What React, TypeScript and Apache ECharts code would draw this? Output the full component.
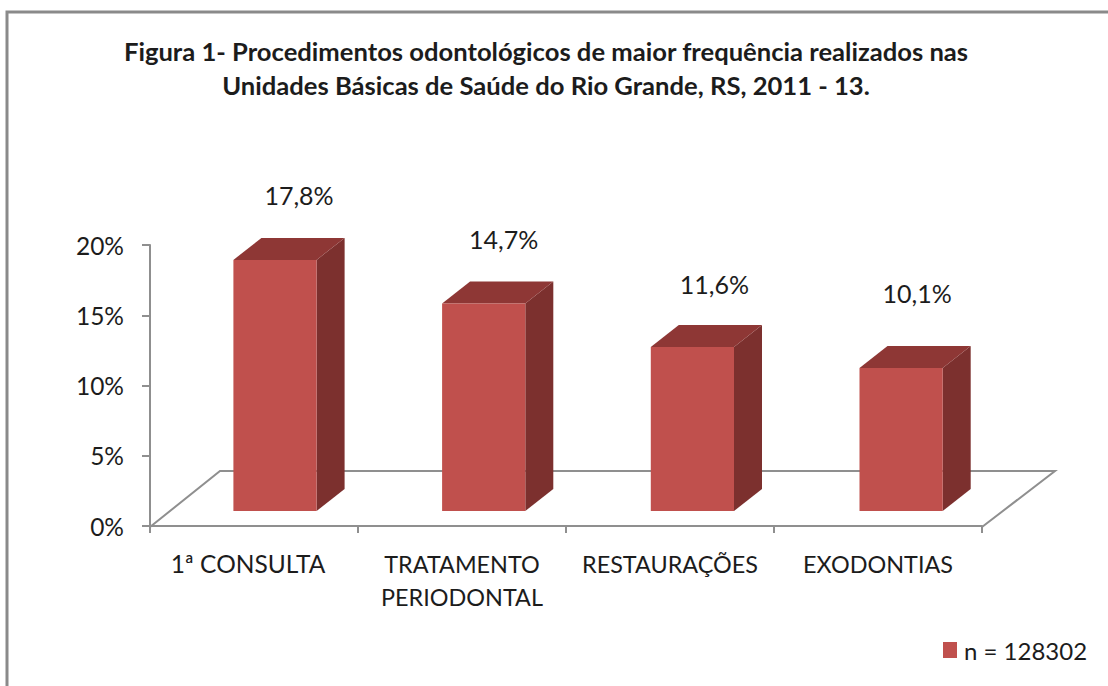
import React, { useEffect, useRef } from "react";
import * as echarts from "echarts";

const categories = ["1ª CONSULTA", "TRATAMENTO\nPERIODONTAL", "RESTAURAÇÕES", "EXODONTIAS"];
const values = [17.8, 14.7, 11.6, 10.1];
const yTicks = [0, 5, 10, 15, 20];
const titleText = "Figura 1- Procedimentos odontológicos de maior frequência realizados nas\nUnidades Básicas de Saúde do Rio Grande, RS, 2011 - 13.";
const seriesName = "n = 128302";

const FONT = "Lato, 'Open Sans', sans-serif";
const INK = "#1c1c1c";
const AXIS = "#8f8f8f";

export default function App() {
  const ref = useRef<HTMLDivElement>(null);
  useEffect(() => {
    const chart = echarts.init(ref.current!, undefined, { renderer: "svg" });
    const labelLift = [44, 43, 42, 54];
    const labelShift = [24, 20, 22, 16];
    chart.setOption({
      animation: false,
      backgroundColor: "#ffffff",
      title: {
        text: titleText,
        left: 541,
        top: 29,
        textAlign: "center",
        textStyle: { fontFamily: FONT, fontSize: 25.6, fontWeight: "bold", color: INK, lineHeight: 34 },
      },
      legend: {
        left: 938,
        top: 633,
        itemWidth: 14,
        itemHeight: 16,
        itemGap: 0,
        data: [{ name: seriesName, icon: "rect" }],
        textStyle: { fontFamily: FONT, fontSize: 24, color: INK, padding: [0, 0, 0, 2] },
      },
      grid: { left: 150, right: 126, top: 245, bottom: 160 },
      xAxis: {
        type: "category",
        data: categories.map((c, i) =>
          i === 0 ? { value: c, textStyle: { fontSize: 24.5, padding: [0, 12, 0, 0] } } : { value: c }
        ),
        offset: 2,
        axisLine: { lineStyle: { color: AXIS, width: 2 } },
        axisTick: { show: true, length: 7, alignWithLabel: false, lineStyle: { color: AXIS, width: 2 } },
        axisLabel: { interval: 0, margin: 19, fontFamily: FONT, fontSize: 23.4, color: INK, lineHeight: 33 },
      },
      yAxis: {
        type: "value",
        min: yTicks[0],
        max: yTicks[yTicks.length - 1],
        interval: 5,
        splitLine: { show: false },
        axisLine: { show: true, lineStyle: { color: AXIS, width: 2 } },
        axisTick: { show: true, length: 8, lineStyle: { color: AXIS, width: 2 } },
        axisLabel: { margin: 26, fontFamily: FONT, fontSize: 24.5, color: INK, formatter: (v: number) => `${v}%` },
      },
      graphic: [
        {
          type: "polyline",
          z: 1,
          shape: { points: [[150, 527], [220, 471], [1055, 471], [982, 527]] },
          style: { fill: "none", stroke: AXIS, lineWidth: 2 },
        },
        {
          type: "polyline",
          z: 1,
          shape: { points: [[7, 686], [7, 12], [1108, 12]] },
          style: { fill: "none", stroke: "#8a8a8a", lineWidth: 3 },
        },
      ],
      series: [
        {
          type: "custom",
          name: seriesName,
          z: 5,
          itemStyle: { color: "#C0504D" },
          data: values.map((v, i) => [i, v]),
          encode: { x: 0, y: 1 },
          renderItem: (params: any, api: any) => {
            const i = api.value(0);
            const v = api.value(1);
            const [cx, top] = api.coord([i, v]);
            const band = api.size([1, 0])[0];
            const w = band * 0.4;
            const lift = 15;
            const dx = 28;
            const dy = 22;
            const x0 = cx + 21 + i * 0.7 - w / 2;
            const x1 = x0 + w;
            const y0 = top - lift - 1;
            const y1 = api.coord([i, 0])[1] - lift;
            return {
              type: "group",
              children: [
                {
                  type: "polygon",
                  shape: { points: [[x1, y0], [x1 + dx, y0 - dy], [x1 + dx, y1 - dy], [x1, y1]] },
                  style: { fill: "#7C302E" },
                },
                {
                  type: "polygon",
                  shape: { points: [[x0, y0], [x0 + dx, y0 - dy], [x1 + dx, y0 - dy], [x1, y0]] },
                  style: { fill: "#8E3735" },
                },
                {
                  type: "rect",
                  shape: { x: x0, y: y0, width: w, height: y1 - y0 },
                  style: { fill: "#C0504D" },
                },
                {
                  type: "text",
                  x: x0 + w / 2 + labelShift[i],
                  y: top - lift - dy - labelLift[i],
                  style: {
                    text: `${v.toFixed(1).replace(".", ",")}%`,
                    font: `25px ${FONT}`,
                    fill: INK,
                    align: "center",
                    verticalAlign: "middle",
                  },
                },
              ],
            };
          },
        },
      ],
    });
    return () => chart.dispose();
  }, []);
  return <div ref={ref} style={{ position: "absolute", left: 0, top: 0, width: 1108, height: 686 }} />;
}
